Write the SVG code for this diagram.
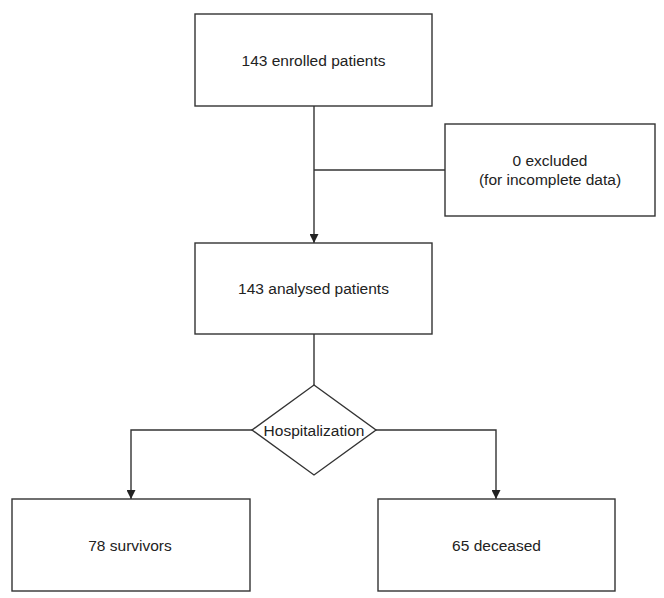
<svg xmlns="http://www.w3.org/2000/svg" width="664" height="598" viewBox="0 0 664 598">
<style>
.box{fill:#fff;stroke:#333;stroke-width:1.4}
.ln{fill:none;stroke:#333;stroke-width:1.4}
.t{font-family:"Liberation Sans",Arial,sans-serif;font-size:15.5px;fill:#222;text-anchor:middle}
</style>
<defs>
<marker id="arr" viewBox="0 0 10 10" refX="10" refY="5" markerWidth="10" markerHeight="9" markerUnits="userSpaceOnUse" orient="auto">
<path d="M0,0 L10,5 L0,10 Z" fill="#222"/>
</marker>
</defs>
<rect width="664" height="598" fill="#fff"/>
<g id="connectors">
<line class="ln" x1="314" y1="106" x2="314" y2="243" marker-end="url(#arr)"/>
<line class="ln" x1="314" y1="170" x2="445" y2="170"/>
<line class="ln" x1="314" y1="334" x2="314" y2="385"/>
<polyline class="ln" points="252,430 131,430 131,499" marker-end="url(#arr)"/>
<polyline class="ln" points="376,430 496,430 496,499" marker-end="url(#arr)"/>
</g>
<g id="enrolled">
<rect class="box" x="195" y="14" width="237" height="92"/>
<text class="t" x="313.5" y="65.5">143 enrolled patients</text>
</g>
<g id="excluded">
<rect class="box" x="445" y="124" width="210" height="92"/>
<text class="t" x="550" y="166">0 excluded</text>
<text class="t" x="550" y="185">(for incomplete data)</text>
</g>
<g id="analysed">
<rect class="box" x="195" y="243" width="237" height="91"/>
<text class="t" x="313.5" y="294">143 analysed patients</text>
</g>
<g id="hospitalization">
<polygon class="box" points="314,385 376,430 314,475 252,430"/>
<text class="t" x="314" y="435.5">Hospitalization</text>
</g>
<g id="survivors">
<rect class="box" x="12" y="499" width="238" height="92"/>
<text class="t" x="130" y="550.5">78 survivors</text>
</g>
<g id="deceased">
<rect class="box" x="378" y="499" width="237" height="92"/>
<text class="t" x="496.5" y="550.5">65 deceased</text>
</g>
</svg>
